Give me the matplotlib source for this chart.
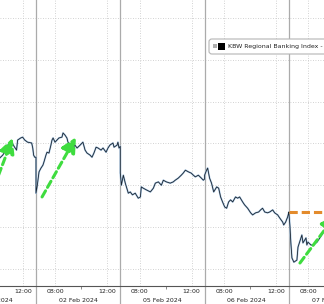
import numpy as np
import pandas as pd
import matplotlib
matplotlib.use('Agg')
import matplotlib.pyplot as plt
from matplotlib.patches import FancyBboxPatch, Rectangle

# Trading days shown (session 06:30 - 13:00 local)
days = ['01 Feb 2024', '02 Feb 2024', '05 Feb 2024', '06 Feb 2024', '07 Feb 2024']
series_name = 'KBW Regional Banking Index -'

# Intraday prices, one pair of lists per day
feb01_time = ['10:12', '10:26', '10:35', '10:44', '10:49', '11:07', '11:21', '11:30', '11:35',
              '11:49', '11:58', '12:08', '12:21', '12:40', '12:45', '12:49', '12:54', '13:00']
feb01_val = [88.65, 88.72, 88.79, 88.89, 88.96, 89.03, 88.91, 88.84, 89.08,
             89.13, 89.15, 89.08, 89.03, 89.01, 88.89, 88.72, 88.67, 88.67]

feb02_time = ['06:30', '06:35', '06:44', '06:53', '07:02', '07:07', '07:16', '07:21', '07:30',
              '07:39', '07:44', '07:49', '07:58', '08:07', '08:16', '08:30', '08:35', '08:44',
              '08:53', '08:58', '09:12', '09:21', '09:30', '09:40', '09:54', '10:07', '10:17',
              '10:26', '10:40', '10:49', '10:58', '11:08', '11:17', '11:31', '11:40', '11:54',
              '12:03', '12:12', '12:26', '12:31', '12:45', '12:49', '12:54', '13:00']
feb02_val = [87.81, 87.96, 88.32, 88.41, 88.48, 88.56, 88.72, 88.79, 88.77,
             88.96, 89.08, 89.13, 89.03, 89.08, 89.13, 89.15, 89.25, 89.20,
             89.13, 89.03, 88.96, 88.89, 88.96, 88.89, 88.96, 89.03, 88.84,
             88.77, 88.72, 88.67, 88.77, 88.91, 88.89, 88.84, 88.89, 88.79,
             88.89, 88.96, 89.01, 88.91, 88.96, 89.03, 88.89, 88.93]

feb05_time = ['06:30', '06:35', '06:44', '06:53', '07:07', '07:16', '07:26', '07:39', '07:53',
              '08:03', '08:07', '08:16', '08:30', '08:49', '09:03', '09:12', '09:26', '09:40',
              '09:49', '10:03', '10:21', '10:35', '10:44', '10:58', '11:12', '11:21', '11:31',
              '11:45', '11:58', '12:08', '12:17', '12:31', '12:45', '12:54', '13:00']
feb05_val = [88.29, 88.00, 88.24, 88.05, 87.81, 87.84, 87.77, 87.81, 87.69,
             87.72, 87.96, 87.93, 87.89, 87.84, 87.93, 88.05, 88.08, 88.00,
             88.12, 88.08, 88.05, 88.08, 88.12, 88.17, 88.24, 88.29, 88.36,
             88.32, 88.29, 88.24, 88.20, 88.24, 88.17, 88.12, 88.15]

feb06_time = ['06:30', '06:39', '06:44', '06:53', '07:02', '07:12', '07:26', '07:35', '07:44',
              '07:53', '08:03', '08:12', '08:21', '08:30', '08:40', '08:53', '09:03', '09:12',
              '09:26', '09:35', '09:49', '10:03', '10:12', '10:26', '10:40', '10:49', '10:58',
              '11:08', '11:21', '11:31', '11:45', '11:54', '12:08', '12:17', '12:31', '12:36',
              '12:45', '12:54', '13:00']
feb06_val = [88.24, 88.36, 88.41, 88.17, 88.05, 87.84, 87.96, 87.93, 87.72,
             87.60, 87.48, 87.45, 87.60, 87.65, 87.60, 87.72, 87.69, 87.72,
             87.60, 87.53, 87.45, 87.34, 87.29, 87.34, 87.36, 87.41, 87.45,
             87.36, 87.34, 87.36, 87.41, 87.34, 87.29, 87.22, 87.12, 87.05,
             87.12, 87.24, 87.36]

feb07_time = ['06:30', '06:35', '06:39', '06:44', '06:53', '07:07', '07:12', '07:26', '07:30',
              '07:35', '07:49', '07:53', '07:58', '08:12', '08:21', '08:40', '08:53', '09:07']
feb07_val = [87.34, 87.00, 86.62, 86.26, 86.16, 86.21, 86.52, 86.74, 86.81,
             86.62, 86.74, 86.57, 86.64, 86.57, 86.57, 86.64, 86.74, 86.86]

# Green trend arrows (day, tail time, tail value, tip time, tip value)
arrow_day = ['01 Feb 2024', '02 Feb 2024', '07 Feb 2024']
arrow_tail_time = ['09:49', '06:58', '07:21']
arrow_tail_val = [88.00, 87.72, 86.14]
arrow_tip_time = ['11:12', '09:35', '10:07']
arrow_tip_val = [89.13, 89.15, 87.29]

tick_times = ['08:00', '12:00']
minor_tick_times = ['10:00']
y_grid = [86, 87, 88, 89, 90, 91, 92]

open_hour = 6.5
session_len = 6.5


def to_x(day, clock):
    h, m = clock.split(':')
    return days.index(day) * session_len + int(h) + int(m) / 60 - open_hour


frames = []
for day, tt, vv in zip(days, [feb01_time, feb02_time, feb05_time, feb06_time, feb07_time],
                       [feb01_val, feb02_val, feb05_val, feb06_val, feb07_val]):
    frames.append(pd.DataFrame({'x': [to_x(day, t) for t in tt], 'value': vv}))
df = pd.concat(frames, ignore_index=True)

prev_close = feb06_val[-1]

fig = plt.figure(figsize=(3.24, 3.04), dpi=100)
ax = fig.add_axes([0, 18 / 304, 1, 1 - 18 / 304])

grid_kw = dict(color='#c4c4c4', lw=0.6, linestyle=(0, (1, 2)), zorder=0)
for v in y_grid:
    ax.axhline(v, **grid_kw)
for i in range(len(days)):
    for t in tick_times:
        ax.axvline(to_x(days[i], t), **grid_kw)
    if i > 0:
        ax.axvline(i * session_len, ymin=-0.07, ymax=1, color='#ababab', lw=0.9,
                   clip_on=False, zorder=1)

# price line: light blue halo under a dark line
ax.plot(df['x'], df['value'], color='#a9c8e6', lw=1.3, zorder=3)
ax.plot(df['x'], df['value'], color='#1d2630', lw=0.6, zorder=4)

# previous close reference
ax.hlines(prev_close, (len(days) - 1) * session_len, 40, color='#e38b2c', lw=2.2,
          linestyle=(0, (2.7, 1.3)), zorder=5)

green = '#3fdc3f'
for d, t0, v0, t1, v1 in zip(arrow_day, arrow_tail_time, arrow_tail_val, arrow_tip_time, arrow_tip_val):
    ax.annotate('', xy=(to_x(d, t1), v1), xytext=(to_x(d, t0), v0), annotation_clip=False,
                arrowprops=dict(arrowstyle='-|>,head_length=1.0,head_width=0.5', mutation_scale=9,
                                lw=2.2, linestyle=(0, (2.3, 1.3)), color=green,
                                shrinkA=0, shrinkB=0), zorder=6)

# x axis: time ticks plus date row
major = [to_x(d, t) for d in days for t in tick_times]
ax.set_xticks(major)
ax.set_xticklabels(tick_times * len(days), fontsize=4.5, color='#222222')
ax.set_xticks([to_x(d, t) for d in days for t in minor_tick_times], minor=True)
ax.tick_params(axis='x', which='major', length=0, pad=2.3)
ax.tick_params(axis='x', which='minor', length=2, width=0.6, color='#777777')
ax.set_yticks([])
for i, d in enumerate(days):
    ax.text(i * session_len + session_len / 2, -0.049, d, transform=ax.get_xaxis_transform(),
            ha='center', va='center', fontsize=4.5, color='#222222')

# limits last, so the tick setters cannot widen them
ax.set_xlim(3.724, 28.705)
ax.set_ylim(85.59, 92.43)

for s in ['top', 'left', 'right']:
    ax.spines[s].set_visible(False)
ax.spines['bottom'].set_color('#555555')
ax.spines['bottom'].set_linewidth(0.8)

# legend box (cut off at right edge like the source)
fig.add_artist(FancyBboxPatch((209 / 324, 250 / 304), 140 / 324, 15 / 304,
                              boxstyle='round,pad=0,rounding_size=0.009',
                              transform=fig.transFigure, facecolor='white',
                              edgecolor='#b5b5b5', lw=0.8, zorder=10))
fig.add_artist(Rectangle((213 / 324, 256 / 304), 4 / 324, 4 / 304, transform=fig.transFigure,
                         facecolor='#b0b0b0', edgecolor='none', zorder=11))
fig.add_artist(Rectangle((218 / 324, 254 / 304), 7 / 324, 7 / 304, transform=fig.transFigure,
                         facecolor='black', edgecolor='none', zorder=11))
fig.text(228 / 324, 257.5 / 304, series_name, fontsize=4.5, color='#222222',
         va='center', ha='left', zorder=12)

fig.savefig('out.png', dpi=100)
